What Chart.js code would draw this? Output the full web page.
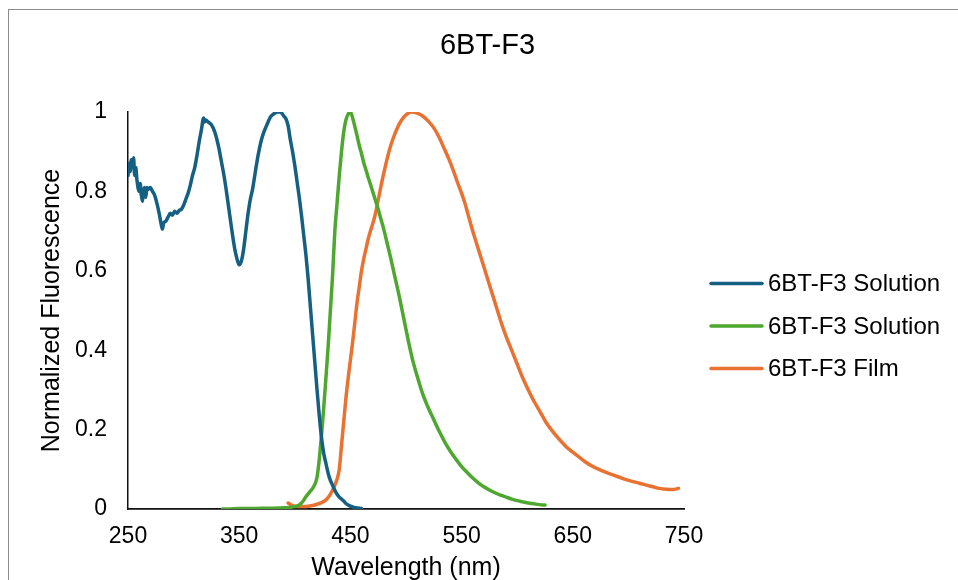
<!DOCTYPE html>
<html>
<head>
<meta charset="utf-8">
<script src="https://cdn.jsdelivr.net/npm/chart.js@4"></script>
<style>
    html, body { margin: 0; padding: 0; background: #fff; overflow: hidden; }
    #frame {
        position: absolute; left: 8px; top: 9px; width: 1200px; height: 800px;
        border: 1.5px solid #8c8c8c; box-sizing: border-box;
    }
    #plot { position: absolute; left: 0; top: 0; }
</style>
</head>
<body>
<div id="frame"></div>
<canvas id="plot" width="975" height="600"></canvas>
<script>
const chartTitle = '6BT-F3';
const seriesNames = ['6BT-F3 Solution', '6BT-F3 Solution', '6BT-F3 Film'];
const seriesColors = ['#156082', '#4EA72E', '#E97132'];
const xTicks = [250, 350, 450, 550, 650, 750];
const yTicks = [0, 0.2, 0.4, 0.6, 0.8, 1];

// Solution absorption (blue)
const blueX = [250, 251, 252, 253, 254, 255, 256, 257, 258, 260, 261, 262, 263, 264, 265, 266, 267, 268, 270, 272,
    274, 276, 278, 280, 281, 282, 284, 286, 288, 290, 292, 294, 296, 298, 300, 302, 304, 306, 308, 310,
    312, 314, 316, 318, 319, 320, 322, 325, 328, 330, 332, 334, 336, 338, 340, 342, 344, 346, 348, 350,
    352, 354, 356, 358, 360, 362, 364, 366, 368, 370, 372, 374, 376, 378, 380, 382, 384, 386, 388, 390,
    392, 394, 396, 398, 400, 402, 404, 406, 408, 410, 412, 414, 416, 418, 420, 422, 424, 426, 428, 430,
    432, 434, 436, 438, 440, 442, 444, 446, 448, 450, 452, 455, 460];
const blueY = [0.84, 0.87, 0.85, 0.88, 0.86, 0.885, 0.84, 0.86, 0.83, 0.80, 0.82, 0.79, 0.775, 0.80, 0.81, 0.785, 0.81, 0.805, 0.81, 0.80,
    0.79, 0.77, 0.745, 0.715, 0.705, 0.72, 0.725, 0.735, 0.745, 0.74, 0.75, 0.745, 0.752, 0.755, 0.765, 0.78, 0.795, 0.815, 0.84, 0.86,
    0.89, 0.925, 0.955, 0.985, 0.975, 0.98, 0.975, 0.968, 0.95, 0.93, 0.905, 0.875, 0.845, 0.81, 0.77, 0.73, 0.69, 0.655, 0.63, 0.615,
    0.625, 0.655, 0.70, 0.745, 0.78, 0.805, 0.84, 0.875, 0.905, 0.93, 0.948, 0.962, 0.975, 0.987, 0.993, 0.997, 1.0, 1.0, 0.998, 0.99,
    0.983, 0.965, 0.93, 0.90, 0.865, 0.825, 0.785, 0.74, 0.69, 0.64, 0.58, 0.51, 0.44, 0.37, 0.30, 0.235, 0.18, 0.14, 0.115, 0.09,
    0.072, 0.06, 0.047, 0.037, 0.03, 0.025, 0.02, 0.014, 0.01, 0.007, 0.005, 0.003, 0.001];

// Solution emission (green)
const greenX = [335, 340, 350, 360, 370, 380, 390, 395, 400, 404, 406, 408, 410, 412, 414, 416, 418, 420, 421, 422,
    423, 424, 425, 426, 428, 430, 432, 434, 436, 438, 440, 442, 444, 446, 448, 450, 452, 454, 456, 458,
    460, 462, 464, 466, 468, 470, 472, 474, 476, 478, 480, 483, 486, 490, 494, 498, 502, 506, 510, 515,
    520, 525, 530, 535, 540, 545, 550, 555, 560, 565, 570, 575, 580, 585, 590, 595, 600, 605, 610, 615,
    620, 625];
const greenY = [0.0, 0.0, 0.001, 0.001, 0.002, 0.002, 0.003, 0.004, 0.006, 0.01, 0.015, 0.022, 0.031, 0.038, 0.045, 0.052, 0.062, 0.08, 0.1, 0.125,
    0.155, 0.185, 0.22, 0.255, 0.33, 0.41, 0.50, 0.59, 0.70, 0.77, 0.84, 0.90, 0.95, 0.98, 0.995, 1.0, 0.985, 0.963, 0.94, 0.915,
    0.895, 0.872, 0.854, 0.835, 0.818, 0.8, 0.782, 0.765, 0.745, 0.725, 0.705, 0.67, 0.635, 0.585, 0.535, 0.48, 0.425, 0.375, 0.335, 0.29,
    0.255, 0.225, 0.195, 0.168, 0.145, 0.125, 0.107, 0.092, 0.078, 0.066, 0.056, 0.048, 0.041, 0.035, 0.03, 0.025, 0.021, 0.018, 0.015, 0.013,
    0.011, 0.01];

// Film emission (orange)
const orangeX = [394, 397, 400, 405, 410, 415, 420, 424, 428, 431, 434, 436, 438, 440, 442, 444, 446, 448, 450, 452,
    454, 456, 458, 460, 462, 464, 466, 468, 470, 472, 474, 476, 478, 480, 482, 484, 486, 488, 490, 494,
    498, 502, 505, 510, 515, 520, 525, 530, 534, 538, 542, 546, 550, 553, 556, 560, 565, 570, 575, 580,
    585, 590, 595, 600, 605, 610, 615, 620, 626, 632, 638, 644, 650, 656, 662, 668, 674, 680, 686, 692,
    698, 704, 710, 716, 722, 728, 734, 740, 745];
const orangeY = [0.015, 0.01, 0.007, 0.006, 0.006, 0.008, 0.012, 0.016, 0.023, 0.033, 0.048, 0.06, 0.075, 0.1, 0.16, 0.22, 0.28, 0.33, 0.375, 0.42,
    0.47, 0.52, 0.56, 0.60, 0.63, 0.655, 0.68, 0.70, 0.718, 0.738, 0.765, 0.792, 0.82, 0.846, 0.87, 0.893, 0.913, 0.93, 0.945, 0.97,
    0.987, 0.997, 1.0, 0.997, 0.99, 0.977, 0.96, 0.935, 0.91, 0.885, 0.857, 0.825, 0.795, 0.77, 0.74, 0.70, 0.655, 0.61, 0.565, 0.52,
    0.475, 0.435, 0.40, 0.365, 0.33, 0.30, 0.272, 0.248, 0.218, 0.195, 0.175, 0.157, 0.143, 0.13, 0.117, 0.107, 0.099, 0.092, 0.086, 0.08,
    0.074, 0.069, 0.065, 0.06, 0.056, 0.052, 0.05, 0.049, 0.052];

const FONT = '"Liberation Sans", Arial, sans-serif';

function pairs(xs, ys) {
    return xs.map((x, i) => ({ x: x, y: ys[i] }));
}

// title and legend are drawn at fixed spots beside the plot
const overlay = {
    id: 'overlay',
    afterDraw(chart) {
        const ctx = chart.ctx;
        ctx.save();
        ctx.fillStyle = '#000';
        ctx.textBaseline = 'middle';
        ctx.font = '29px ' + FONT;
        ctx.textAlign = 'center';
        ctx.fillText(chartTitle, 487.5, 46);

        ctx.font = '24px ' + FONT;
        ctx.textAlign = 'left';
        chart.data.datasets.forEach((ds, i) => {
            const y = 283.5 + i * 42.5;
            ctx.beginPath();
            ctx.moveTo(711, y);
            ctx.lineTo(762, y);
            ctx.strokeStyle = ds.borderColor;
            ctx.lineWidth = 3.5;
            ctx.lineCap = 'round';
            ctx.stroke();
            ctx.fillText(ds.label, 768, y + 1);
        });
        ctx.restore();
    }
};

const series = [pairs(blueX, blueY), pairs(greenX, greenY), pairs(orangeX, orangeY)];

new Chart(document.getElementById('plot'), {
    type: 'line',
    data: {
        datasets: series.map((pts, i) => ({
            label: seriesNames[i],
            data: pts,
            borderColor: seriesColors[i],
            backgroundColor: seriesColors[i],
            borderWidth: 3.5,
            pointRadius: 0,
            cubicInterpolationMode: 'monotone',
            borderJoinStyle: 'round',
            borderCapStyle: 'round'
        }))
    },
    options: {
        responsive: false,
        animation: false,
        events: [],
        layout: { padding: { left: 30, right: 291, top: 112, bottom: 0 } },
        plugins: {
            legend: { display: false },
            title: { display: false },
            tooltip: { enabled: false }
        },
        scales: {
            x: {
                type: 'linear',
                min: xTicks[0],
                max: xTicks[xTicks.length - 1],
                afterBuildTicks: s => { s.ticks = xTicks.map(v => ({ value: v })); },
                afterFit: s => { s.height = 91; },
                grid: { display: false, drawTicks: false },
                border: { display: true, color: '#111', width: 1.75 },
                ticks: { padding: 14, color: '#000', font: { family: FONT, size: 23 } },
                title: {
                    display: true, text: 'Wavelength (nm)', color: '#000',
                    font: { family: FONT, size: 25 }, padding: { top: 0, bottom: 17 }
                }
            },
            y: {
                type: 'linear',
                min: yTicks[0],
                max: yTicks[yTicks.length - 1],
                afterBuildTicks: s => { s.ticks = yTicks.map(v => ({ value: v })); },
                afterFit: s => { s.width = 98; },
                grid: { display: false, drawTicks: false },
                border: { display: true, color: '#111', width: 1.5 },
                ticks: {
                    padding: 21, color: '#000', font: { family: FONT, size: 23 },
                    callback: v => String(Math.round(v * 10) / 10)
                },
                title: {
                    display: true, text: 'Normalized Fluorescence', color: '#000',
                    font: { family: FONT, size: 25 }, padding: { top: 7, bottom: 0 }
                }
            }
        }
    },
    plugins: [overlay]
});
</script>
</body>
</html>
